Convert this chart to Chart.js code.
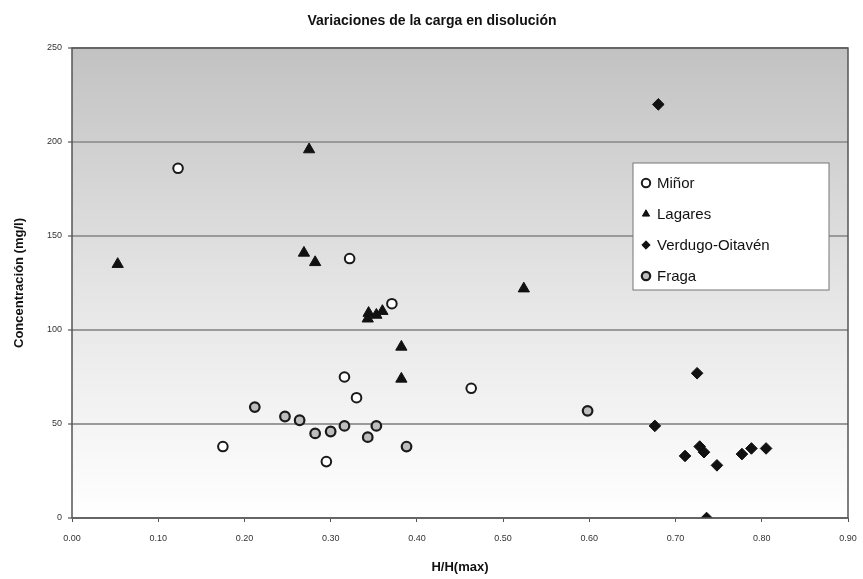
<!DOCTYPE html>
<html>
<head>
<meta charset="utf-8">
<script src="https://cdn.jsdelivr.net/npm/chart.js@4.4.1/dist/chart.umd.min.js"></script>
<style>
  html, body { margin: 0; padding: 0; background: #fff; }
  #wrap { width: 863px; height: 579px; }
</style>
</head>
<body>
<div id="wrap"><canvas id="chart" width="863" height="579"></canvas></div>
<script>
// data: x = H/H(max), y = concentración (mg/l)
let minorX = [0.123, 0.322, 0.371, 0.316, 0.330, 0.463, 0.175, 0.295];
let minorY = [186, 138, 114, 75, 64, 69, 38, 30];

let lagaresX = [0.053, 0.275, 0.269, 0.282, 0.343, 0.344, 0.353, 0.360, 0.382, 0.382, 0.524];
let lagaresY = [135, 196, 141, 136, 106, 109, 108, 110, 91, 74, 122];

let verdugoX = [0.680, 0.725, 0.676, 0.711, 0.728, 0.733, 0.748, 0.777, 0.788, 0.805, 0.736];
let verdugoY = [220, 77, 49, 33, 38, 35, 28, 34, 37, 37, 0];

let fragaX = [0.212, 0.247, 0.264, 0.282, 0.300, 0.316, 0.353, 0.343, 0.388, 0.598];
let fragaY = [59, 54, 52, 45, 46, 49, 49, 43, 38, 57];

let seriesNames = ['Miñor', 'Lagares', 'Verdugo-Oitavén', 'Fraga'];
let yTicks = [0, 50, 100, 150, 200, 250];
let xTicks = [0.0, 0.1, 0.2, 0.3, 0.4, 0.5, 0.6, 0.7, 0.8, 0.9];

let toPoints = (xs, ys) => xs.map((x, i) => ({x: x, y: ys[i]}));

// background gradient, frame, title and legend box
let plotBox = {
    id: 'plotBox',
    beforeDraw(chart) {
        let a = chart.chartArea, ctx = chart.ctx;
        let g = ctx.createLinearGradient(0, a.top, 0, a.bottom);
        g.addColorStop(0, '#c2c2c2');
        g.addColorStop(0.5, '#e4e4e4');
        g.addColorStop(1, '#ffffff');
        ctx.save();
        ctx.fillStyle = g;
        ctx.fillRect(a.left, a.top, a.right - a.left, a.bottom - a.top);
        ctx.restore();
    },
    afterDraw(chart) {
        let a = chart.chartArea, ctx = chart.ctx;
        ctx.save();
        ctx.strokeStyle = '#555';
        ctx.lineWidth = 1.5;
        ctx.strokeRect(a.left, a.top, a.right - a.left, a.bottom - a.top);

        // title
        ctx.fillStyle = '#111';
        ctx.font = 'bold 14px "Liberation Sans", Arial, sans-serif';
        ctx.textAlign = 'center';
        ctx.textBaseline = 'middle';
        ctx.fillText('Variaciones de la carga en disolución', 432, 21);

        // legend
        let lx = 633, ly = 163, lw = 196, lh = 127;
        ctx.fillStyle = '#fff';
        ctx.fillRect(lx, ly, lw, lh);
        ctx.strokeStyle = '#777';
        ctx.lineWidth = 1;
        ctx.strokeRect(lx, ly, lw, lh);
        ctx.font = '15px "Liberation Sans", Arial, sans-serif';
        ctx.textAlign = 'left';
        chart.data.datasets.forEach((ds, i) => {
            let y = ly + 20 + i * 31;
            ctx.fillStyle = ds.backgroundColor;
            ctx.strokeStyle = ds.borderColor;
            ctx.lineWidth = ds.borderWidth;
            Chart.helpers.drawPoint(ctx, {pointStyle: ds.pointStyle, radius: 4.2, borderWidth: ds.borderWidth}, lx + 13, y);
            ctx.fillStyle = '#111';
            ctx.fillText(ds.label, lx + 24, y + 1);
        });
        ctx.restore();
    }
};

let ctx = document.querySelector('#chart');
let chart = new Chart(ctx, {
    type: 'scatter',
    data: {
        datasets: [
            {label: seriesNames[0], data: toPoints(minorX, minorY), pointStyle: 'circle', pointRadius: 4.8,
             backgroundColor: '#ffffff', borderColor: '#1a1a1a', borderWidth: 2},
            {label: seriesNames[1], data: toPoints(lagaresX, lagaresY), pointStyle: 'triangle', pointRadius: 6.5,
             backgroundColor: '#111', borderColor: '#111', borderWidth: 1},
            {label: seriesNames[2], data: toPoints(verdugoX, verdugoY), pointStyle: 'rectRot', pointRadius: 5.8,
             backgroundColor: '#111', borderColor: '#111', borderWidth: 1},
            {label: seriesNames[3], data: toPoints(fragaX, fragaY), pointStyle: 'circle', pointRadius: 4.8,
             backgroundColor: '#bdbdbd', borderColor: '#1a1a1a', borderWidth: 2.2}
        ]
    },
    options: {
        responsive: false,
        animation: false,
        layout: {padding: {top: 48, right: 15, left: 8, bottom: 0}},
        plugins: {
            legend: {display: false},
            title: {display: false},
            tooltip: {enabled: false}
        },
        scales: {
            x: {
                type: 'linear', min: 0, max: 0.9,
                afterBuildTicks: (s) => { s.ticks = xTicks.map(v => ({value: v})); },
                afterFit: (s) => { s.height = 61; s.paddingLeft = 0; s.paddingRight = 0; },
                ticks: {
                    color: '#333', font: {size: 9, family: '"Liberation Sans", Arial'},
                    padding: 11, maxRotation: 0,
                    callback: (v) => v.toFixed(2)
                },
                grid: {drawOnChartArea: false, drawTicks: true, tickLength: 4, color: '#555'},
                border: {display: false},
                title: {display: true, text: 'H/H(max)', color: '#111',
                        font: {size: 13, weight: 'bold', family: '"Liberation Sans", Arial'}, padding: {top: 16}}
            },
            y: {
                type: 'linear', min: 0, max: 250,
                afterBuildTicks: (s) => { s.ticks = yTicks.map(v => ({value: v})); },
                afterFit: (s) => { s.width = 64; },
                ticks: {color: '#333', font: {size: 9, family: '"Liberation Sans", Arial'}, padding: 6},
                grid: {color: '#9a9a9a', lineWidth: 2, drawTicks: true, tickLength: 4},
                border: {display: false},
                title: {display: true, text: 'Concentración (mg/l)', color: '#111',
                        font: {size: 13, weight: 'bold', family: '"Liberation Sans", Arial'}, padding: {bottom: 4}}
            }
        }
    },
    plugins: [plotBox]
});
</script>
</body>
</html>
